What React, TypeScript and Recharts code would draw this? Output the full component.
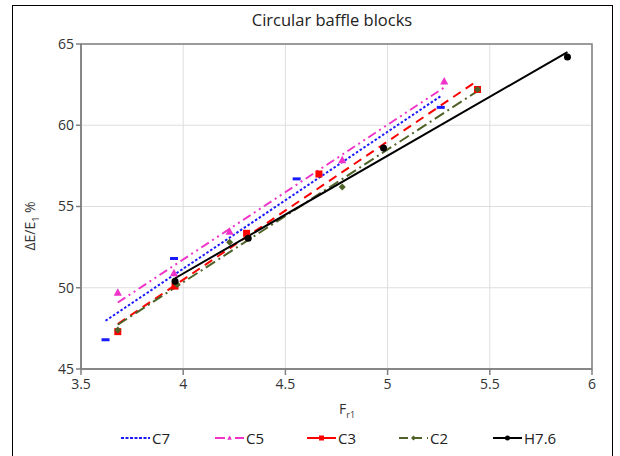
import { ComposedChart, Scatter, XAxis, YAxis, CartesianGrid, ReferenceArea } from 'recharts';

const c7X = [3.62, 3.955, 4.555, 5.26];
const c7Y = [46.8, 51.8, 56.7, 61.1];
const c5X = [3.68, 3.955, 4.227, 4.778, 5.277];
const c5Y = [49.7, 50.9, 53.45, 57.85, 62.7];
const c3X = [3.68, 3.96, 4.31, 4.664, 5.44];
const c3Y = [47.3, 50.1, 53.35, 57.0, 62.2];
const c2X = [3.68, 3.97, 4.227, 4.778, 5.44];
const c2Y = [47.4, 50.2, 52.8, 56.2, 62.2];
const h76X = [3.96, 4.318, 4.98, 5.88];
const h76Y = [50.4, 53.05, 58.6, 64.2];

const xTicks = [3.5, 4, 4.5, 5, 5.5, 6];
const yTicks = [45, 50, 55, 60, 65];

const FONT = '"Open Sans", "Noto Sans", sans-serif';

const toPoints = (xs: number[], ys: number[]) => xs.map((x, i) => ({ x, y: ys[i] }));

// linear trendline (least squares) over the range of the points, like Excel's
const trend = (xs: number[], ys: number[]) => {
  const n = xs.length;
  const mx = xs.reduce((a, b) => a + b, 0) / n;
  const my = ys.reduce((a, b) => a + b, 0) / n;
  let sxy = 0;
  let sxx = 0;
  xs.forEach((x, i) => {
    sxy += (x - mx) * (ys[i] - my);
    sxx += (x - mx) * (x - mx);
  });
  const k = sxy / sxx;
  const lo = Math.min(...xs);
  const hi = Math.max(...xs);
  return [
    { x: lo, y: my + k * (lo - mx) },
    { x: hi, y: my + k * (hi - mx) },
  ];
};

const noShape = () => <g />;

const Dash = (p: any) => <rect x={p.cx - 4} y={p.cy - 1.5} width={8} height={3} fill="#1a1aff" />;
const Tri = (p: any) => {
  const r = p.r ?? 4.5;
  return <polygon points={`${p.cx},${p.cy - r} ${p.cx - r * 0.9},${p.cy + r * 0.7} ${p.cx + r * 0.9},${p.cy + r * 0.7}`} fill="#f032c8" />;
};
const Sq = (p: any) => {
  const r = p.r ?? 3.5;
  return <rect x={p.cx - r} y={p.cy - r} width={2 * r} height={2 * r} fill="#ff0000" />;
};
const Dia = (p: any) => {
  const r = p.r ?? 3.5;
  return <polygon points={`${p.cx},${p.cy - r} ${p.cx + r},${p.cy} ${p.cx},${p.cy + r} ${p.cx - r},${p.cy}`} fill="#4f6228" />;
};
const Dot = (p: any) => <circle cx={p.cx} cy={p.cy} r={p.r ?? 3.5} fill="#000" />;

const series = [
  { name: 'C7', xs: c7X, ys: c7Y, color: '#1a1aff', dash: '2.5 2', shape: Dash },
  { name: 'C5', xs: c5X, ys: c5Y, color: '#f032c8', dash: '9 4 2 4 2 4', shape: Tri },
  { name: 'C3', xs: c3X, ys: c3Y, color: '#ff0000', dash: '9 6', shape: Sq },
  { name: 'C2', xs: c2X, ys: c2Y, color: '#4f6228', dash: '11 4 2 4', shape: Dia },
  { name: 'H7.6', xs: h76X, ys: h76Y, color: '#000000', dash: undefined, shape: Dot },
];

const XLabel = () => (
  <text x={339} y={414} fontSize={14} fill="#333" fontFamily={FONT}>
    F<tspan fontSize={9} dy={4}>r1</tspan>
  </text>
);

const YLabel = () => (
  <text transform="translate(35,226) rotate(-90)" textAnchor="middle" fontSize={14} fill="#333" fontFamily={FONT}>
    ΔE/E<tspan fontSize={9} dy={4}>1</tspan>
    <tspan dy={-4}> %</tspan>
  </text>
);

const legendX = [121, 215, 307, 399, 493];

const Legend = () => (
  <svg width={620} height={26} style={{ position: 'absolute', left: 0, top: 425 }}>
    {series.map((s, i) => {
      const x = legendX[i];
      const Mark = s.shape;
      return (
        <g key={s.name}>
          <line x1={x} x2={x + 29} y1={13} y2={13} stroke={s.color} strokeWidth={2}
            strokeDasharray={i === 0 ? '3 1.5' : i === 1 ? '10 4 2 4' : i === 3 ? '9 5' : undefined} />
          {i > 0 && <Mark cx={x + 14.5} cy={13} r={2.5} />}
          <text x={x + 31} y={18.5} fontSize={15} fill="#222" fontFamily={FONT}>{s.name}</text>
        </g>
      );
    })}
  </svg>
);

export default function App() {
  return (
    <div style={{ position: 'absolute', left: 0, top: 0, width: 620, height: 456, background: '#fff', overflow: 'hidden' }}>
      <div style={{ position: 'absolute', left: 12, top: 5, width: 599, height: 470, border: '1.5px solid #000' }} />
      <div style={{ position: 'absolute', left: 0, top: 8, width: 664, textAlign: 'center', fontFamily: FONT, fontSize: 16.5, color: '#222' }}>
        Circular baffle blocks
      </div>
      <div style={{ position: 'absolute', left: 0, top: 0 }}>
        <ComposedChart width={620} height={456} margin={{ top: 44, right: 28, bottom: 57, left: 0 }}>
          <CartesianGrid stroke="#dedede" strokeWidth={1} />
          <XAxis dataKey="x" type="number" domain={[3.5, 6]} ticks={xTicks} allowDataOverflow
            height={30} stroke="#808080" strokeWidth={1.5} tickSize={6}
            tick={{ fill: '#333', fontSize: 14, fontFamily: FONT, dy: 2 }} label={<XLabel />} />
          <YAxis dataKey="y" type="number" domain={[45, 65]} ticks={yTicks} allowDataOverflow
            width={81} stroke="#808080" strokeWidth={1.5} tickSize={5}
            tick={{ fill: '#333', fontSize: 14, fontFamily: FONT }} label={<YLabel />} />
          <ReferenceArea x1={3.5} x2={6} y1={45} y2={65} fill="none" stroke="#808080" strokeWidth={1.5} />
          {series.map((s) => (
            <Scatter key={s.name + '-trend'} data={trend(s.xs, s.ys)} shape={noShape}
              line={{ stroke: s.color, strokeWidth: 2, strokeDasharray: s.dash }}
              legendType="none" isAnimationActive={false} />
          ))}
          {series.map((s) => (
            <Scatter key={s.name} name={s.name} data={toPoints(s.xs, s.ys)} shape={s.shape} isAnimationActive={false} />
          ))}
        </ComposedChart>
      </div>
      <Legend />
    </div>
  );
}
